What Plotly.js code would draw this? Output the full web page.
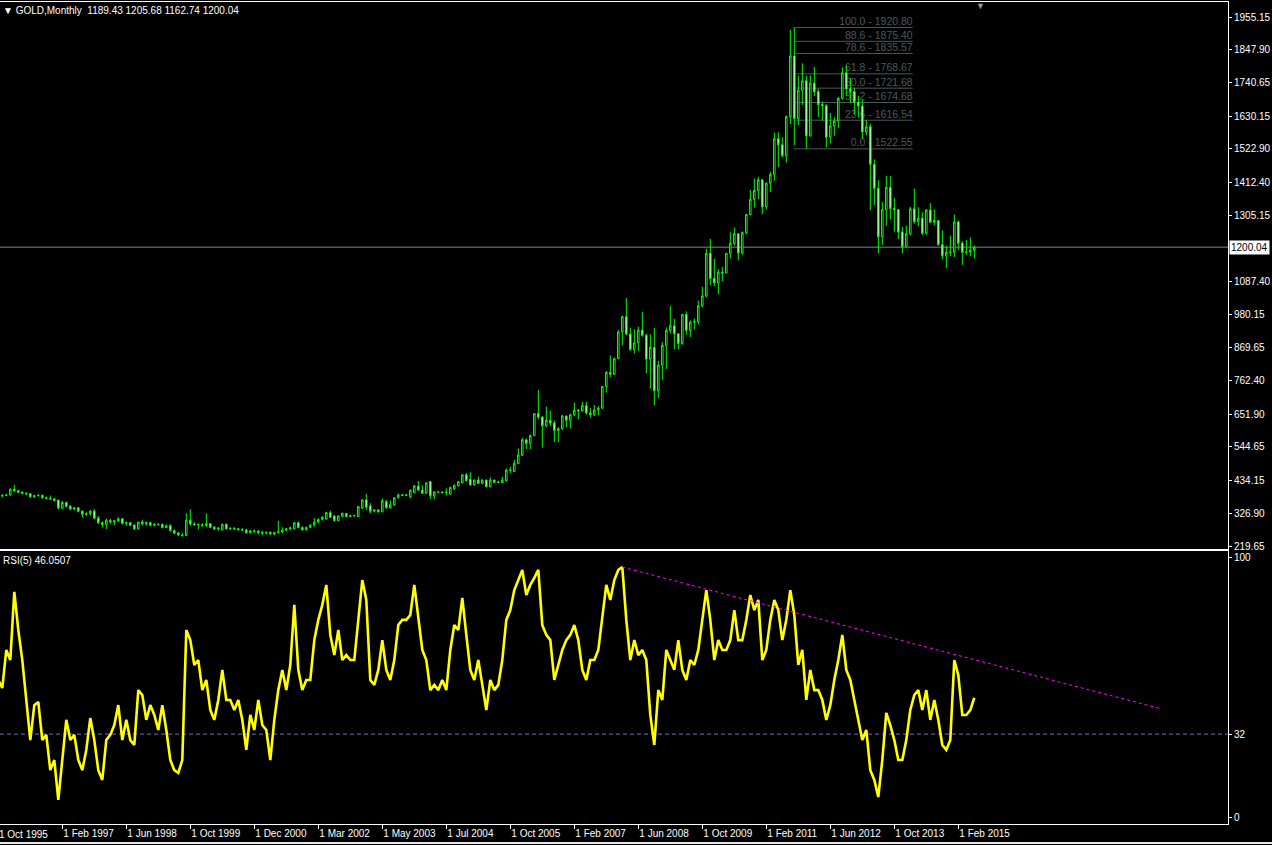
<!DOCTYPE html>
<html><head><meta charset="utf-8">
<script src="https://cdn.plot.ly/plotly-3.0.1.min.js"></script>
<style>html,body{margin:0;padding:0;background:#000;overflow:hidden}#chart{width:1272px;height:845px}</style>
</head><body><div id="chart"></div>
<script>
// ---- GOLD monthly candles (bar index 1..244; index 0 = 1 Oct 1995) ----
const openP = [
383,386,387,406,401,396,393,391,381,385, 386,378,376,374,370,344,362,350,341,345,
334,324,326,334,311,296,290,304,299,302, 309,294,296,288,276,298,293,296,288,291,
290,280,286,270,262,256,254,304,292,290, 289,287,293,281,275,273,291,276,278,276,
273,272,263,269,268,264,262,264,259,263, 266,272,276,276,296,280,273,281,288,298,
307,308,329,318,303,317,326,316,319,316, 344,371,351,334,338,332,365,345,354,378,
387,386,382,395,416,403,393,431,384,397, 397,395,390,406,417,427,453,438,420,436,
425,436,414,436,428,428,434,469,464,490, 517,568,556,582,654,643,614,632,623,599,
604,646,632,650,665,663,680,656,650,666, 672,743,789,783,834,922,972,915,864,886,
928,911,833,871,729,813,878,927,942,916, 884,979,927,954,955,1008,1040,1180,1097,1083,
1118,1115,1180,1213,1244,1181,1248,1307,1357,1386, 1421,1332,1410,1439,1556,1536,1500,1628,1827,1622,
1715,1746,1565,1738,1710,1668,1664,1561,1598,1614, 1688,1772,1719,1711,1675,1663,1578,1595,1472,1393,
1234,1323,1396,1327,1323,1250,1202,1244,1326,1284, 1295,1246,1322,1282,1287,1208,1172,1183,1184,1283,
1213,1183,1184,1189.43];
const highP = [
388,390,409,420,404,399,395,393,387,389, 388,382,385,378,372,367,365,354,348,347,
336,330,337,341,318,300,310,308,306,314, 311,300,298,291,300,306,300,299,294,294,
294,290,291,274,266,263,327,340,298,294, 295,327,294,285,282,292,293,281,281,279,
278,276,272,274,272,270,268,268,266,302, 281,279,283,298,300,284,283,291,311,310,
318,331,336,321,320,329,328,322,322,351, 373,390,360,340,341,376,371,369,380,392,
390,390,405,420,433,419,429,433,399,400, 399,409,414,421,433,455,460,462,438,447,
438,438,445,438,432,447,474,480,502,540, 575,572,585,654,731,645,677,664,632,610,
650,648,654,690,669,693,693,672,682,678, 744,794,845,838,928,975,1033,936,931,939,
988,917,914,935,827,888,937,1007,965,918, 981,990,960,966,1025,1070,1195,1227,1162,1128,
1135,1180,1249,1265,1245,1252,1310,1388,1425,1431, 1424,1412,1447,1576,1577,1561,1632,1913,1920.8,1763,
1803,1763,1764,1791,1720,1678,1669,1640,1627,1693, 1790,1796,1755,1723,1697,1684,1617,1605,1488,1420,
1348,1434,1434,1361,1325,1267,1271,1332,1392,1331, 1315,1325,1345,1324,1287,1255,1205,1238,1307,1288,
1220,1224,1232,1205.68];
const lowP = [
380,383,385,396,393,389,387,378,377,382, 375,373,371,366,340,340,346,337,337,330,
313,318,320,307,292,281,275,292,288,298, 290,286,285,272,274,287,286,284,284,286,
278,278,268,258,252,250,252,286,285,274, 283,282,279,273,271,270,274,272,272,271,
269,260,261,263,258,255,258,257,256,262, 262,268,271,274,278,270,271,278,283,294,
303,305,312,300,301,314,314,315,316,314, 342,338,327,330,329,330,342,342,352,376,
383,383,376,393,401,390,391,374,373,393, 392,387,388,404,415,425,432,418,418,423,
423,412,412,427,426,426,432,458,462,488, 515,538,537,580,635,542,610,613,561,560,
600,610,605,645,636,660,651,641,646,648, 670,723,774,781,833,878,912,861,851,860,
906,786,736,681,705,765,800,917,866,865, 880,913,905,931,946,1002,1035,1075,1072,1045,
1088,1114,1163,1205,1157,1175,1242,1305,1330,1357, 1309,1324,1381,1418,1462,1496,1478,1604,1535,1600,
1667,1522.55,1563,1696,1627,1615,1527,1540,1565,1590, 1684,1695,1672,1635,1626,1555,1566,1321,1338,1180,
1207,1270,1291,1251,1227,1180,1200,1238,1277,1268, 1240,1240,1280,1272,1206,1160,1131,1170,1168,1191,
1142,1175,1170,1162.74];
const closeP = [
386,387,406,401,396,393,391,381,385,386, 378,376,374,370,344,362,350,341,345,334,
324,326,334,311,296,290,304,299,302,309, 294,296,288,276,298,293,296,288,291,290,
280,286,270,262,256,254,304,292,290,289, 287,293,281,275,278,291,276,278,276,273,
272,263,269,268,264,262,264,259,263,266, 272,276,279,296,280,273,281,288,298,307,
314,329,314,303,318,327,316,319,320,349, 371,347,334,338,332,368,345,355,378,387,
386,387,403,417,403,393,427,385,397,397, 395,396,412,419,431,453,434,420,436,425,
436,414,436,428,430,436,469,468,491,518, 568,556,582,654,643,614,632,623,599,604,
646,632,650,665,663,680,656,650,666,672, 743,789,783,834,922,972,915,864,886,928,
911,833,871,729,813,878,927,942,916,884, 979,927,954,955,1008,1040,1180,1097,1083,1118,
1115,1180,1213,1244,1181,1248,1307,1357,1386,1421, 1332,1410,1439,1556,1536,1500,1628,1827,1622,1715,
1746,1565,1738,1710,1668,1664,1561,1598,1614,1688, 1772,1719,1711,1675,1663,1578,1595,1472,1393,1234,
1323,1396,1327,1323,1250,1202,1244,1326,1284,1295, 1246,1322,1282,1287,1208,1172,1183,1184,1283,1213,
1183,1184,1190,1200.04];

// ---- RSI(5), bar index 0..244 ----
const rsi5 = [
52.9,49.8,64.5,60.6,86.9,72.2,60.6,45.2,29.7,43.2,
44.4,29.7,31.7,18.1,22.0,6.6,22.0,37.5,29.7,31.7,
22.0,18.1,25.9,38.2,29.7,18.1,14.3,29.7,31.7,35.5,
43.2,29.7,37.5,29.7,27.8,49.0,47.1,37.5,43.2,39.4,
33.6,43.2,33.6,22.0,18.1,17.0,22.0,72.2,68.3,58.7,
60.6,49.0,52.9,41.3,37.5,45.2,56.8,45.2,45.2,41.3,
45.2,37.5,25.9,39.4,33.6,45.2,35.5,33.6,22.0,37.5,
49.0,56.8,49.0,58.7,81.9,56.8,49.0,52.9,52.9,68.3,
76.1,81.9,89.6,70.3,62.5,72.2,60.6,62.5,60.6,60.6,
76.1,91.5,83.8,52.9,51.0,56.8,68.3,56.8,52.9,60.6,
74.1,76.1,76.1,78.0,89.6,76.1,64.5,60.6,49.0,51.0,
49.0,52.9,49.0,64.5,74.1,72.2,84.6,70.3,56.8,52.9,
60.6,51.0,41.3,52.9,49.0,51.0,60.6,76.1,79.9,87.6,
91.5,95.4,85.7,89.6,92.3,95.4,74.1,70.3,68.3,52.9,
58.7,64.5,68.3,70.3,74.1,68.3,56.8,52.9,60.6,60.6,
64.5,76.1,89.6,83.8,91.5,95.4,96.5,76.1,60.6,68.3,
62.5,64.5,60.6,39.4,27.8,49.0,45.2,64.5,60.6,56.8,
68.3,56.8,52.9,60.6,58.7,64.5,76.1,87.6,76.1,60.6,
68.3,64.5,64.5,68.3,79.9,68.3,68.3,76.1,85.7,79.9,
83.8,60.6,64.5,76.1,83.8,79.9,68.3,76.1,87.6,78.0,
58.7,64.5,45.2,56.8,49.0,49.0,45.2,37.5,43.2,52.9,
60.6,70.3,56.8,52.9,45.2,37.5,29.7,33.6,18.1,14.3,
7.7,22.0,40.2,35.5,29.7,22.0,22.0,29.7,41.3,47.1,
49.0,41.3,49.0,37.5,45.2,37.5,27.8,25.9,29.7,60.6,
54.8,39.4,39.4,41.3,46.05];

// ---- axis ticks ----
const timeTickIdx = [16,32,48,64,80,96,112,128,144,160,176,192,208,224,240];
const timeTickLabels = ['1 Feb 1997','1 Jun 1998','1 Oct 1999','1 Dec 2000','1 Mar 2002','1 May 2003','1 Jul 2004','1 Oct 2005','1 Feb 2007','1 Jun 2008','1 Oct 2009','1 Feb 2011','1 Jun 2012','1 Oct 2013','1 Feb 2015'];
const firstTimeLabel = '1 Oct 1995';
const priceTicks = [1955.15,1847.90,1740.65,1630.15,1522.90,1412.40,1305.15,1087.40,980.15,869.65,762.40,651.90,544.65,434.15,326.90,219.65];
const rsiTicks = [100,32,0];
const rsiLevel = 32;
const bidPrice = 1200.04;
const headerText = '\u25BC GOLD,Monthly\u00a0\u00a01189.43 1205.68 1162.74 1200.04';
const rsiText = 'RSI(5) 46.0507';

// ---- Fibonacci retracement ----
const fibLevels = [100.0, 88.6, 78.6, 61.8, 50.0, 38.2, 23.6, 0.0];
const fibPrices = [1920.80, 1875.40, 1835.57, 1768.67, 1721.68, 1674.68, 1616.54, 1522.55];
const fibX = [198.9, 228.6];
// RSI trend line anchors (bar index, value)
const trendX = [156, 290.9];
const trendY = [96.5, 41.7];

const FONT = 'Liberation Sans, Arial, sans-serif';
const WHITE = '#ffffff';
const fibColor = '#4a5a5a';

const barIdx = openP.map((_, k) => k + 1);
const rsiIdx = rsi5.map((_, k) => k);

const traces = [
  {
    type: 'candlestick', x: barIdx, open: openP, high: highP, low: lowP, close: closeP,
    xaxis: 'x2', yaxis: 'y', whiskerwidth: 0, hoverinfo: 'skip', showlegend: false,
    increasing: {line: {color: '#00ff00', width: 1}, fillcolor: '#000000'},
    decreasing: {line: {color: '#00ff00', width: 1}, fillcolor: '#ffffff'}
  },
  {
    type: 'scatter', mode: 'lines', x: rsiIdx, y: rsi5, xaxis: 'x', yaxis: 'y2',
    line: {color: '#ffff00', width: 2.6}, hoverinfo: 'skip', showlegend: false
  }
];

const shapes = [];
fibLevels.forEach((lv, k) => {
  shapes.push({
    type: 'line', xref: 'x2', yref: 'y', x0: fibX[0], x1: fibX[1], y0: fibPrices[k], y1: fibPrices[k],
    line: {color: fibColor, width: 1}, layer: 'below',
    label: {text: lv.toFixed(1) + ' - ' + fibPrices[k].toFixed(2), textposition: 'end',
            xanchor: 'right', yanchor: 'bottom', padding: 1,
            font: {family: FONT, size: 10.5, color: fibColor}}
  });
});
shapes.push({type: 'line', xref: 'x2', yref: 'y', x0: 199.4, x1: 199.4, y0: fibPrices[0], y1: fibPrices[7],
  line: {color: '#000080', width: 1, dash: 'dash'}, layer: 'below'});
shapes.push({type: 'line', xref: 'paper', yref: 'y', x0: 0, x1: 1, y0: bidPrice, y1: bidPrice,
  line: {color: '#778899', width: 1}, layer: 'below'});
shapes.push({type: 'line', xref: 'paper', yref: 'y2', x0: 0, x1: 1, y0: rsiLevel, y1: rsiLevel,
  line: {color: '#7070c8', width: 1, dash: '4px,3px'}, layer: 'below'});
shapes.push({type: 'line', xref: 'x', yref: 'y2', x0: trendX[0], x1: trendX[1], y0: trendY[0], y1: trendY[1],
  line: {color: '#ff00ff', width: 1, dash: '3px,3px'}, layer: 'above'});
// window frame line under the time scale
shapes.push({type: 'line', xref: 'paper', yref: 'paper', x0: 0, x1: 1272 / 1228, y0: -19 / 822, y1: -19 / 822,
  line: {color: '#e8e8e8', width: 2}, layer: 'above'});

const annotations = [
  {xref: 'paper', yref: 'paper', x: 0, y: 1, xanchor: 'left', yanchor: 'top', xshift: 1, yshift: -1,
   text: headerText, showarrow: false, font: {family: FONT, size: 10, color: WHITE}},
  {xref: 'paper', yref: 'y2 domain', x: 0, y: 1, xanchor: 'left', yanchor: 'top', xshift: 1, yshift: -2,
   text: rsiText, showarrow: false, font: {family: FONT, size: 10, color: WHITE}},
  {xref: 'paper', yref: 'y', x: 1, y: bidPrice, xanchor: 'left', yanchor: 'middle', xshift: 1,
   text: bidPrice.toFixed(2), showarrow: false, bgcolor: '#ffffff', borderpad: 1,
   font: {family: FONT, size: 10, color: '#000000'}},
  {xref: 'paper', yref: 'paper', x: 0, y: 0, xanchor: 'left', yanchor: 'top', xshift: -3, yshift: -3,
   text: firstTimeLabel, showarrow: false, font: {family: FONT, size: 10, color: WHITE}},
  {xref: 'paper', yref: 'paper', x: 980 / 1228, y: 1, xanchor: 'center', yanchor: 'top', yshift: 3,
   text: '\u25BC', showarrow: false, font: {family: FONT, size: 9, color: '#9a9a9a'}}
];

const axisCommon = {showgrid: false, zeroline: false, fixedrange: true, linecolor: WHITE, linewidth: 1,
  tickcolor: WHITE, tickfont: {family: FONT, size: 10, color: WHITE}};
const xRange = [0.425, 307.425];

const layout = {
  width: 1272, height: 845,
  paper_bgcolor: '#000000', plot_bgcolor: '#000000',
  margin: {l: 0, r: 44, t: 2, b: 21, pad: 0},
  showlegend: false, boxgap: 0.45,
  xaxis: Object.assign({}, axisCommon, {
    anchor: 'y2', domain: [0, 1], range: xRange, tickmode: 'array',
    tickvals: timeTickIdx, ticktext: timeTickLabels, ticks: 'outside', ticklen: 4,
    ticklabelposition: 'outside right', showline: true, mirror: true
  }),
  xaxis2: Object.assign({}, axisCommon, {
    anchor: 'y', domain: [0, 1], range: xRange, matches: 'x', showticklabels: false,
    ticks: '', showline: true, mirror: true, rangeslider: {visible: false}
  }),
  yaxis: Object.assign({}, axisCommon, {
    anchor: 'x2', domain: [0.33455, 1], side: 'right', range: [209.8, 2004.4],
    tickmode: 'array', tickvals: priceTicks, ticktext: priceTicks.map(v => v.toFixed(2)),
    ticks: 'outside', ticklen: 3, showline: true
  }),
  yaxis2: Object.assign({}, axisCommon, {
    anchor: 'x', domain: [0, 0.33212], side: 'right', range: [-2.7, 102.7],
    tickmode: 'array', tickvals: rsiTicks, ticktext: rsiTicks.map(String),
    ticks: 'outside', ticklen: 3, showline: true
  }),
  shapes: shapes,
  annotations: annotations
};

Plotly.newPlot('chart', traces, layout, {displayModeBar: false, staticPlot: true});
</script>
</body></html>
